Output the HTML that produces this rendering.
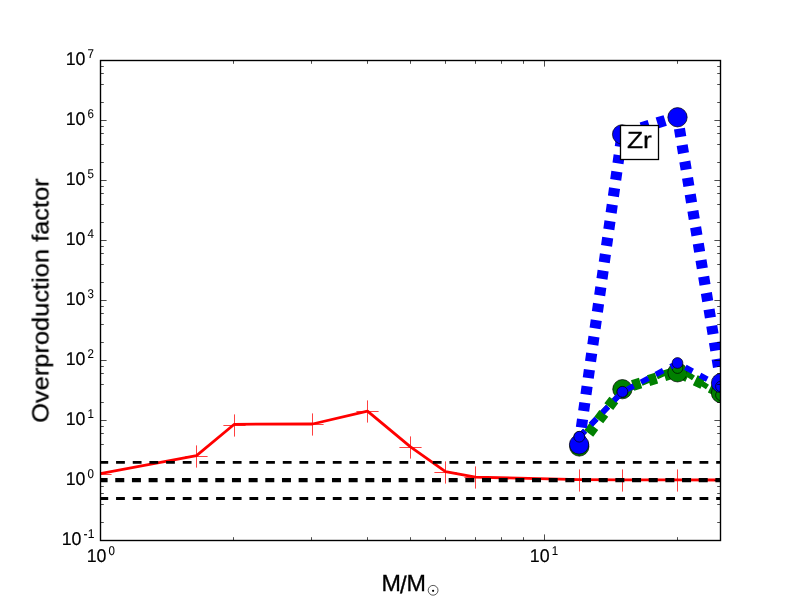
<!DOCTYPE html>
<html><head><meta charset="utf-8"><title>Overproduction factor</title>
<style>html,body{margin:0;padding:0;background:#fff;}svg{display:block;}text{font-family:"Liberation Sans",sans-serif;fill:#000;will-change:transform;text-rendering:geometricPrecision;}</style>
</head><body>
<svg width="800" height="600" viewBox="0 0 800 600">
<rect x="0" y="0" width="800" height="600" fill="#ffffff"/>
<defs><clipPath id="ax"><rect x="100" y="60" width="620.5" height="480.5"/></clipPath></defs>
<g clip-path="url(#ax)">
<polyline fill="none" stroke="#ff0000" stroke-width="2.78" stroke-linejoin="round" points="100.00,473.60 196.50,455.60 234.30,424.30 312.50,424.00 367.50,411.10 410.50,446.90 445.50,471.60 475.50,477.20 579.50,479.60 622.50,479.80 677.50,479.90 721.00,480.00"/>
<path d="M89.40 474.50H111.60M100.50 463.40V485.60M185.40 456.50H207.60M196.50 445.40V467.60M223.40 425.50H245.60M234.50 414.40V436.60M301.40 424.50H323.60M312.50 413.40V435.60M356.40 411.50H378.60M367.50 400.40V422.60M399.40 447.50H421.60M410.50 436.40V458.60M434.40 472.50H456.60M445.50 461.40V483.60M464.40 477.50H486.60M475.50 466.40V488.60M568.40 480.50H590.60M579.50 469.40V491.60M611.40 480.50H633.60M622.50 469.40V491.60M666.40 480.50H688.60M677.50 469.40V491.60M710.40 480.50H732.60M721.50 469.40V491.60" stroke="#ff0000" stroke-width="0.75" fill="none"/>
<line x1="99.40" x2="722" y1="462.39" y2="462.39" stroke="#000" stroke-width="2.78" stroke-dasharray="8.8 7.87"/>
<line x1="99.40" x2="722" y1="498.51" y2="498.51" stroke="#000" stroke-width="2.78" stroke-dasharray="8.8 7.87"/>
<line x1="98.60" x2="722" y1="480.10" y2="480.10" stroke="#000" stroke-width="4.17" stroke-dasharray="9 7.67"/>
<polyline fill="none" stroke="#008000" stroke-width="11.11" stroke-dasharray="8.33 8.33" stroke-dashoffset="0.90" stroke-linejoin="round" points="579.30,445.90 622.40,388.60 677.50,371.70 721.00,392.60"/>
<circle cx="579.30" cy="446.50" r="9.65" fill="#008000" stroke="#000" stroke-width="0.70"/>
<circle cx="622.40" cy="389.20" r="9.65" fill="#008000" stroke="#000" stroke-width="0.70"/>
<circle cx="677.50" cy="372.30" r="9.65" fill="#008000" stroke="#000" stroke-width="0.70"/>
<circle cx="721.00" cy="393.20" r="9.65" fill="#008000" stroke="#000" stroke-width="0.70"/>
<polyline fill="none" stroke="#008000" stroke-width="5.56" stroke-dasharray="8.33 8.33" stroke-dashoffset="0.00" stroke-linejoin="round" points="579.30,436.80 622.40,391.60 677.50,367.60 721.00,395.80"/>
<circle cx="579.30" cy="436.90" r="5.40" fill="#008000" stroke="#000" stroke-width="0.70"/>
<circle cx="622.40" cy="392.10" r="5.40" fill="#008000" stroke="#000" stroke-width="0.70"/>
<circle cx="677.50" cy="368.00" r="5.40" fill="#008000" stroke="#000" stroke-width="0.70"/>
<circle cx="721.00" cy="395.20" r="5.40" fill="#008000" stroke="#000" stroke-width="0.70"/>
<polyline fill="none" stroke="#0000ff" stroke-width="11.11" stroke-dasharray="8.33 8.33" stroke-dashoffset="0.00" stroke-linejoin="round" points="579.10,443.90 622.10,133.80 677.50,116.65 721.00,382.40"/>
<circle cx="579.10" cy="444.50" r="9.65" fill="#0000ff" stroke="#000" stroke-width="0.70"/>
<circle cx="622.10" cy="134.40" r="9.65" fill="#0000ff" stroke="#000" stroke-width="0.70"/>
<circle cx="677.50" cy="117.25" r="9.65" fill="#0000ff" stroke="#000" stroke-width="0.70"/>
<circle cx="721.00" cy="383.00" r="9.65" fill="#0000ff" stroke="#000" stroke-width="0.70"/>
<polyline fill="none" stroke="#0000ff" stroke-width="5.56" stroke-dasharray="8.33 8.33" stroke-dashoffset="0.00" stroke-linejoin="round" points="579.30,436.80 622.40,391.90 677.50,363.10 721.00,386.60"/>
<circle cx="579.30" cy="436.70" r="5.40" fill="#0000ff" stroke="#000" stroke-width="0.70"/>
<circle cx="622.40" cy="391.80" r="5.40" fill="#0000ff" stroke="#000" stroke-width="0.70"/>
<circle cx="677.50" cy="363.00" r="5.40" fill="#0000ff" stroke="#000" stroke-width="0.70"/>
<circle cx="721.00" cy="386.50" r="5.40" fill="#0000ff" stroke="#000" stroke-width="0.70"/>
</g>
<rect x="620.5" y="125.5" width="38" height="34" fill="#fff" stroke="#000" stroke-width="1.3"/>
<text x="626.9" y="147.8" font-size="23.3" textLength="25.0" lengthAdjust="spacingAndGlyphs" stroke="#000" stroke-width="0.25">Zr</text>
<path d="M233.5 540V537.2M233.5 61V63.8M311.5 540V537.2M311.5 61V63.8M367.5 540V537.2M367.5 61V63.8M410.5 540V537.2M410.5 61V63.8M445.5 540V537.2M445.5 61V63.8M475.5 540V537.2M475.5 61V63.8M501.5 540V537.2M501.5 61V63.8M523.5 540V537.2M523.5 61V63.8M677.5 540V537.2M677.5 61V63.8M100.5 540V534.4M100.5 61V66.6M544.5 540V534.4M544.5 61V66.6M101 540.5H106.6M720 540.5H714.4M101 522.5H103.8M720 522.5H717.2M101 504.5H103.8M720 504.5H717.2M101 493.5H103.8M720 493.5H717.2M101 486.5H103.8M720 486.5H717.2M101 480.5H106.6M720 480.5H714.4M101 462.5H103.8M720 462.5H717.2M101 444.5H103.8M720 444.5H717.2M101 433.5H103.8M720 433.5H717.2M101 426.5H103.8M720 426.5H717.2M101 420.5H106.6M720 420.5H714.4M101 402.5H103.8M720 402.5H717.2M101 384.5H103.8M720 384.5H717.2M101 373.5H103.8M720 373.5H717.2M101 366.5H103.8M720 366.5H717.2M101 360.5H106.6M720 360.5H714.4M101 342.5H103.8M720 342.5H717.2M101 324.5H103.8M720 324.5H717.2M101 313.5H103.8M720 313.5H717.2M101 306.5H103.8M720 306.5H717.2M101 300.5H106.6M720 300.5H714.4M101 282.5H103.8M720 282.5H717.2M101 264.5H103.8M720 264.5H717.2M101 253.5H103.8M720 253.5H717.2M101 246.5H103.8M720 246.5H717.2M101 240.5H106.6M720 240.5H714.4M101 222.5H103.8M720 222.5H717.2M101 204.5H103.8M720 204.5H717.2M101 193.5H103.8M720 193.5H717.2M101 186.5H103.8M720 186.5H717.2M101 180.5H106.6M720 180.5H714.4M101 162.5H103.8M720 162.5H717.2M101 144.5H103.8M720 144.5H717.2M101 133.5H103.8M720 133.5H717.2M101 126.5H103.8M720 126.5H717.2M101 120.5H106.6M720 120.5H714.4M101 102.5H103.8M720 102.5H717.2M101 84.5H103.8M720 84.5H717.2M101 73.5H103.8M720 73.5H717.2M101 66.5H103.8M720 66.5H717.2M101 60.5H106.6M720 60.5H714.4" stroke="#000" stroke-width="0.7" fill="none"/>
<rect x="100.5" y="60.5" width="620" height="480" fill="none" stroke="#000" stroke-width="1.39"/>
<text x="65.70" y="484.90" font-size="18.5" textLength="19.8" lengthAdjust="spacingAndGlyphs" stroke="#000" stroke-width="0.15">10</text>
<text x="87.60" y="478.10" font-size="12.7" textLength="6.4" lengthAdjust="spacingAndGlyphs" stroke="#000" stroke-width="0.1">0</text>
<text x="65.70" y="424.90" font-size="18.5" textLength="19.8" lengthAdjust="spacingAndGlyphs" stroke="#000" stroke-width="0.15">10</text>
<text x="87.60" y="418.10" font-size="12.7" textLength="6.4" lengthAdjust="spacingAndGlyphs" stroke="#000" stroke-width="0.1">1</text>
<text x="65.70" y="364.90" font-size="18.5" textLength="19.8" lengthAdjust="spacingAndGlyphs" stroke="#000" stroke-width="0.15">10</text>
<text x="87.60" y="358.10" font-size="12.7" textLength="6.4" lengthAdjust="spacingAndGlyphs" stroke="#000" stroke-width="0.1">2</text>
<text x="65.70" y="304.90" font-size="18.5" textLength="19.8" lengthAdjust="spacingAndGlyphs" stroke="#000" stroke-width="0.15">10</text>
<text x="87.60" y="298.10" font-size="12.7" textLength="6.4" lengthAdjust="spacingAndGlyphs" stroke="#000" stroke-width="0.1">3</text>
<text x="65.70" y="244.90" font-size="18.5" textLength="19.8" lengthAdjust="spacingAndGlyphs" stroke="#000" stroke-width="0.15">10</text>
<text x="87.60" y="238.10" font-size="12.7" textLength="6.4" lengthAdjust="spacingAndGlyphs" stroke="#000" stroke-width="0.1">4</text>
<text x="65.70" y="184.90" font-size="18.5" textLength="19.8" lengthAdjust="spacingAndGlyphs" stroke="#000" stroke-width="0.15">10</text>
<text x="87.60" y="178.10" font-size="12.7" textLength="6.4" lengthAdjust="spacingAndGlyphs" stroke="#000" stroke-width="0.1">5</text>
<text x="65.70" y="124.90" font-size="18.5" textLength="19.8" lengthAdjust="spacingAndGlyphs" stroke="#000" stroke-width="0.15">10</text>
<text x="87.60" y="118.10" font-size="12.7" textLength="6.4" lengthAdjust="spacingAndGlyphs" stroke="#000" stroke-width="0.1">6</text>
<text x="65.70" y="64.90" font-size="18.5" textLength="19.8" lengthAdjust="spacingAndGlyphs" stroke="#000" stroke-width="0.15">10</text>
<text x="87.60" y="58.10" font-size="12.7" textLength="6.4" lengthAdjust="spacingAndGlyphs" stroke="#000" stroke-width="0.1">7</text>
<text x="61.70" y="544.70" font-size="18.5" textLength="19.8" lengthAdjust="spacingAndGlyphs" stroke="#000" stroke-width="0.15">10</text>
<text x="83.60" y="537.90" font-size="12.7" textLength="10.8" lengthAdjust="spacingAndGlyphs" stroke="#000" stroke-width="0.1">-1</text>
<text x="86.70" y="561.80" font-size="18.5" textLength="19.8" lengthAdjust="spacingAndGlyphs" stroke="#000" stroke-width="0.15">10</text>
<text x="108.60" y="555.00" font-size="12.7" textLength="6.4" lengthAdjust="spacingAndGlyphs" stroke="#000" stroke-width="0.1">0</text>
<text x="529.80" y="562.00" font-size="18.5" textLength="19.8" lengthAdjust="spacingAndGlyphs" stroke="#000" stroke-width="0.15">10</text>
<text x="551.70" y="555.20" font-size="12.7" textLength="6.4" lengthAdjust="spacingAndGlyphs" stroke="#000" stroke-width="0.1">1</text>
<text font-size="23.3" stroke="#000" stroke-width="0.3"><tspan x="381.4" y="591">M</tspan><tspan x="399.9" y="592.7" font-size="24.0">/</tspan><tspan x="406.6" y="591">M</tspan></text>
<circle cx="433.1" cy="590.3" r="4.9" fill="none" stroke="#000" stroke-width="0.65"/>
<circle cx="433.1" cy="590.8" r="1.1" fill="#000"/>
<text transform="translate(48.4,422.8) rotate(-90)" font-size="23.3" textLength="244.5" lengthAdjust="spacingAndGlyphs" stroke="#000" stroke-width="0.25">Overproduction factor</text>
</svg></body></html>
